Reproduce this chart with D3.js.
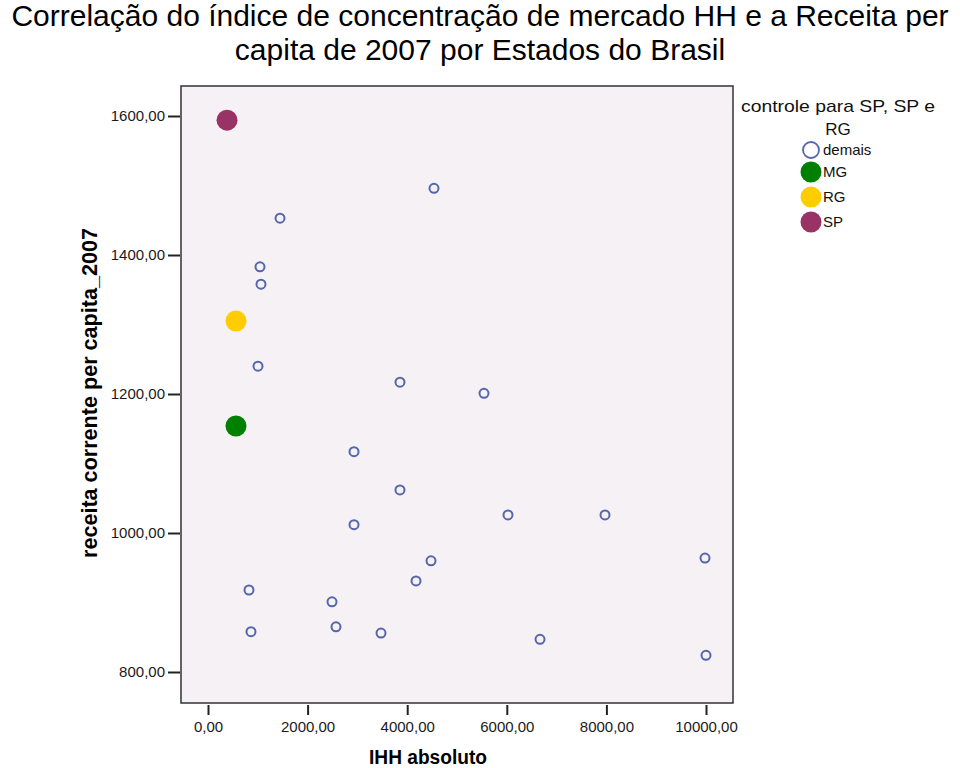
<!DOCTYPE html>
<html><head><meta charset="utf-8">
<script src="https://cdn.jsdelivr.net/npm/d3@7"></script>
<style>body{margin:0;background:#fff;} svg{display:block;font-family:"Liberation Sans",Arial,sans-serif;}</style>
</head><body>
<svg id="c" width="960" height="768"></svg>
<script>
const groups = ["demais","MG","RG","SP"];
const groupColors = ["none","#008000","#FFCC00","#993366"];
const xTicks = [0,2000,4000,6000,8000,10000];
const yTicks = [800,1000,1200,1400,1600];
const ihh = [382,562,562,4538,1446,1044,1064,1004,3855,5542,2932,3855,2932,6024,7972,9980,4478,4177,823,2490,863,2570,3474,6667,10000];
const receita = [1594,1305,1154,1496,1453,1383,1358,1240,1217,1201,1117,1062,1012,1026,1026,964,960,931,918,901,858,865,856,847,824];
const grupo = ["SP","RG","MG","demais","demais","demais","demais","demais","demais","demais","demais","demais","demais","demais","demais","demais","demais","demais","demais","demais","demais","demais","demais","demais","demais"];

const svg = d3.select("#c");
const L=181, R=733, T=86, B=703;
const x = d3.scaleLinear().domain([0,10000]).range([208,706]);
const y = d3.scaleLinear().domain([800,1600]).range([672,116]);
const fmt = d => d3.format(".2f")(d).replace(".",",");

svg.append("text").attr("x",480).attr("y",26).attr("text-anchor","middle").attr("font-size",30).attr("fill","#000")
  .text("Correlação do índice de concentração de mercado HH e a Receita per");
svg.append("text").attr("x",480).attr("y",60).attr("text-anchor","middle").attr("font-size",30).attr("fill","#000")
  .text("capita de 2007 por Estados do Brasil");

svg.append("rect").attr("x",L).attr("y",T).attr("width",R-L).attr("height",B-T).attr("fill","#F5F1F5").attr("stroke","#333").attr("stroke-width",1.5);

const ya = svg.append("g").attr("transform",`translate(${L-1},0)`).call(d3.axisLeft(y).tickValues(yTicks).tickSize(12).tickPadding(3).tickFormat(fmt));
const xa = svg.append("g").attr("transform",`translate(0,${B+2})`).call(d3.axisBottom(x).tickValues(xTicks).tickSize(10).tickPadding(6).tickFormat(fmt));
[ya,xa].forEach(a=>{a.select(".domain").remove();a.selectAll("line").attr("stroke","#222").attr("stroke-width",2);a.selectAll("text").attr("font-size",15).attr("fill","#1a1a1a").attr("font-family","Liberation Sans, Arial, sans-serif");});

svg.append("text").attr("x",428).attr("y",764).attr("text-anchor","middle").attr("font-size",20).attr("font-weight","bold")
  .attr("textLength",118).attr("lengthAdjust","spacingAndGlyphs").text("IHH absoluto");
svg.append("text").attr("transform","translate(97,393) rotate(-90)").attr("text-anchor","middle").attr("font-size",21.5).attr("font-weight","bold")
  .attr("textLength",330).attr("lengthAdjust","spacingAndGlyphs").text("receita corrente per capita_2007");

const pts = ihh.map((v,i)=>({x:v,y:receita[i],g:grupo[i]}));
const order = ["demais","MG","RG","SP"];
pts.sort((a,b)=>order.indexOf(a.g)-order.indexOf(b.g));
const colorOf = g => groupColors[groups.indexOf(g)];
svg.append("g").selectAll("circle").data(pts).join("circle")
  .attr("cx",d=>x(d.x)).attr("cy",d=>y(d.y))
  .attr("r",d=>d.g==="demais"?4.5:10.5)
  .attr("fill",d=>d.g==="demais"?"none":colorOf(d.g))
  .attr("stroke",d=>d.g==="demais"?"#5566AA":"none")
  .attr("stroke-width",2);

// legend
const lg = svg.append("g");
lg.append("text").attr("x",838).attr("y",112).attr("text-anchor","middle").attr("font-size",17).attr("fill","#111")
  .attr("textLength",194).attr("lengthAdjust","spacingAndGlyphs").text("controle para SP, SP e");
lg.append("text").attr("x",838).attr("y",135).attr("text-anchor","middle").attr("font-size",17).attr("fill","#111").text("RG");
const ly = [150,172,197,222];
groups.forEach((g,i)=>{
  lg.append("circle").attr("cx",811).attr("cy",ly[i]).attr("r",g==="demais"?8:10.5)
    .attr("fill",g==="demais"?"none":groupColors[i]).attr("stroke",g==="demais"?"#5566AA":"none").attr("stroke-width",1.8);
  lg.append("text").attr("x",823).attr("y",ly[i]+5).attr("font-size",15).attr("fill","#111").text(g);
});
</script>
</body></html>
